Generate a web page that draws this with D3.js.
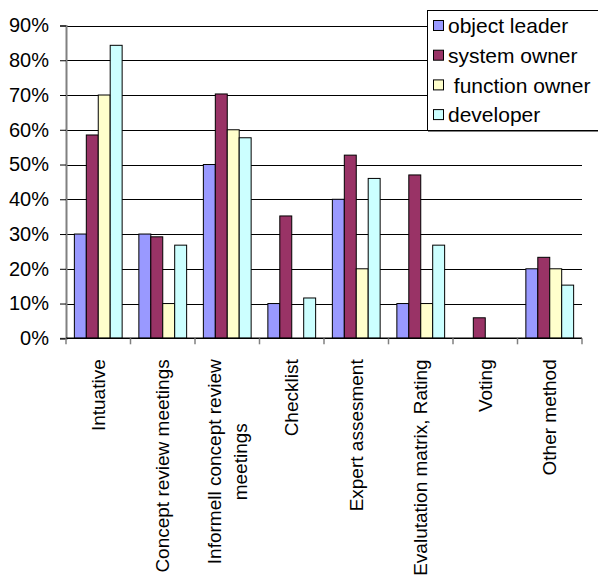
<!DOCTYPE html>
<html>
<head>
<meta charset="utf-8">
<script src="https://cdn.jsdelivr.net/npm/d3@7"></script>
<style>
  body { margin: 0; background: #fff; }
  svg { display: block; font-family: Arial, "Liberation Sans", sans-serif; }
  text { white-space: pre; }
</style>
</head>
<body>
<svg id="chart" width="598" height="581"></svg>
<script>
// Methods used for concept evaluation, share of respondents per role
const categories = [
  "Intuative",
  "Concept review meetings",
  "Informell concept review\nmeetings",
  "Checklist",
  "Expert assesment",
  "Evalutation matrix, Rating",
  "Voting",
  "Other method"
];
const seriesNames = ["object leader", "system owner", " function owner", "developer"];
const objectLeader  = [0.30, 0.30, 0.50, 0.10, 0.40, 0.10, 0.00, 0.20];
const systemOwner   = [0.585, 0.292, 0.703, 0.352, 0.527, 0.470, 0.059, 0.233];
const functionOwner = [0.70, 0.10, 0.60, 0.00, 0.20, 0.10, 0.00, 0.20];
const developer     = [0.843, 0.268, 0.577, 0.116, 0.460, 0.268, 0.00, 0.153];
const seriesColors  = ["#9999FF", "#993366", "#FFFFCC", "#CCFFFF"];
const yTicks = [0, 0.1, 0.2, 0.3, 0.4, 0.5, 0.6, 0.7, 0.8, 0.9];

const seriesValues = [objectLeader, systemOwner, functionOwner, developer];

const svg = d3.select("#chart");
const plot = { left: 66, right: 582, top: 25.5, bottom: 338.3 };
const tickFont = 20;
const labelFont = 19;
const legendFont = 21;

const x0 = d3.scaleBand().domain(categories).range([plot.left, plot.right]).padding(0);
const x1 = d3.scaleBand().domain(d3.range(seriesNames.length))
  .range([0, x0.bandwidth()]).paddingInner(0).paddingOuter(0.7);
const y = d3.scaleLinear().domain([0, 0.9]).range([plot.bottom, plot.top]);

// horizontal gridlines
svg.append("g")
  .selectAll("line")
  .data(yTicks.filter(t => t > 0))
  .join("line")
  .attr("x1", plot.left).attr("x2", plot.right)
  .attr("y1", d => Math.round(y(d)) + 0.5).attr("y2", d => Math.round(y(d)) + 0.5)
  .attr("stroke", "#000").attr("stroke-width", 1);

// bars
const groups = svg.append("g")
  .selectAll("g")
  .data(categories)
  .join("g")
  .attr("transform", d => `translate(${x0(d)},0)`);

groups.selectAll("rect")
  .data((c, i) => seriesValues.map((vals, s) => ({ s, v: vals[i] })).filter(d => d.v > 0))
  .join("rect")
  .attr("x", d => x1(d.s))
  .attr("width", x1.bandwidth())
  .attr("y", d => y(d.v))
  .attr("height", d => y(0) - y(d.v))
  .attr("fill", d => seriesColors[d.s])
  .attr("stroke", "#000")
  .attr("stroke-width", 1);

// y axis
const yAxis = d3.axisLeft(y).tickValues(yTicks).tickFormat(d3.format(".0%"))
  .tickSize(6).tickPadding(11);
const yg = svg.append("g").attr("transform", `translate(${plot.left},0)`).call(yAxis);
yg.select(".domain").attr("stroke", "#808080").attr("stroke-width", 2);
yg.selectAll(".tick line").attr("stroke", "#000");
yg.selectAll(".tick text").attr("font-size", tickFont).attr("fill", "#000")
  .attr("font-family", "Arial, 'Liberation Sans', sans-serif");

// x axis: ticks at category boundaries
const xg = svg.append("g");
xg.append("line")
  .attr("x1", plot.left).attr("x2", plot.right)
  .attr("y1", plot.bottom).attr("y2", plot.bottom)
  .attr("stroke", "#000").attr("stroke-width", 1.5);
xg.selectAll("line.tick")
  .data(categories.map(c => x0(c)).concat([plot.right]))
  .join("line")
  .attr("class", "tick")
  .attr("x1", d => d).attr("x2", d => d)
  .attr("y1", plot.bottom).attr("y2", plot.bottom + 6)
  .attr("stroke", "#808080").attr("stroke-width", 1.5);

// rotated category labels, top-aligned under the axis, lines centred on each other
const labelTop = plot.bottom + 21;
const lineGap = 26;
categories.forEach(c => {
  const lines = c.split("\n");
  const cx = x0(c) + x0.bandwidth() / 2;
  const g = xg.append("g");
  const texts = lines.map(ln => g.append("text")
    .attr("font-size", labelFont)
    .attr("fill", "#000")
    .attr("dy", "0.35em")
    .text(ln));
  const maxLen = d3.max(texts, t => t.node().getComputedTextLength());
  const firstX = cx - (lines.length - 1) * lineGap / 2;
  texts.forEach((t, i) => {
    t.attr("text-anchor", "middle")
      .attr("transform", `translate(${firstX + i * lineGap},${labelTop + maxLen / 2}) rotate(-90)`);
  });
});

// legend
const legend = svg.append("g");
legend.append("rect")
  .attr("x", 427.5).attr("y", 10.5).attr("width", 180).attr("height", 120)
  .attr("fill", "#fff").attr("stroke", "#000").attr("stroke-width", 1);
legend.append("line")
  .attr("x1", 428).attr("x2", 598).attr("y1", 131.5).attr("y2", 131.5)
  .attr("stroke", "#808080").attr("stroke-width", 1);
const entry = legend.selectAll("g.entry")
  .data(seriesNames)
  .join("g")
  .attr("class", "entry")
  .attr("transform", (d, i) => `translate(0,${26 + i * 29.7})`);
entry.append("rect")
  .attr("x", 433.5).attr("y", -5.5).attr("width", 10).attr("height", 10)
  .attr("fill", (d, i) => seriesColors[i])
  .attr("stroke", "#000").attr("stroke-width", 1);
entry.append("text")
  .attr("x", 448).attr("dy", "0.35em")
  .attr("font-size", legendFont)
  .attr("fill", "#000")
  .text(d => d);
</script>
</body>
</html>
